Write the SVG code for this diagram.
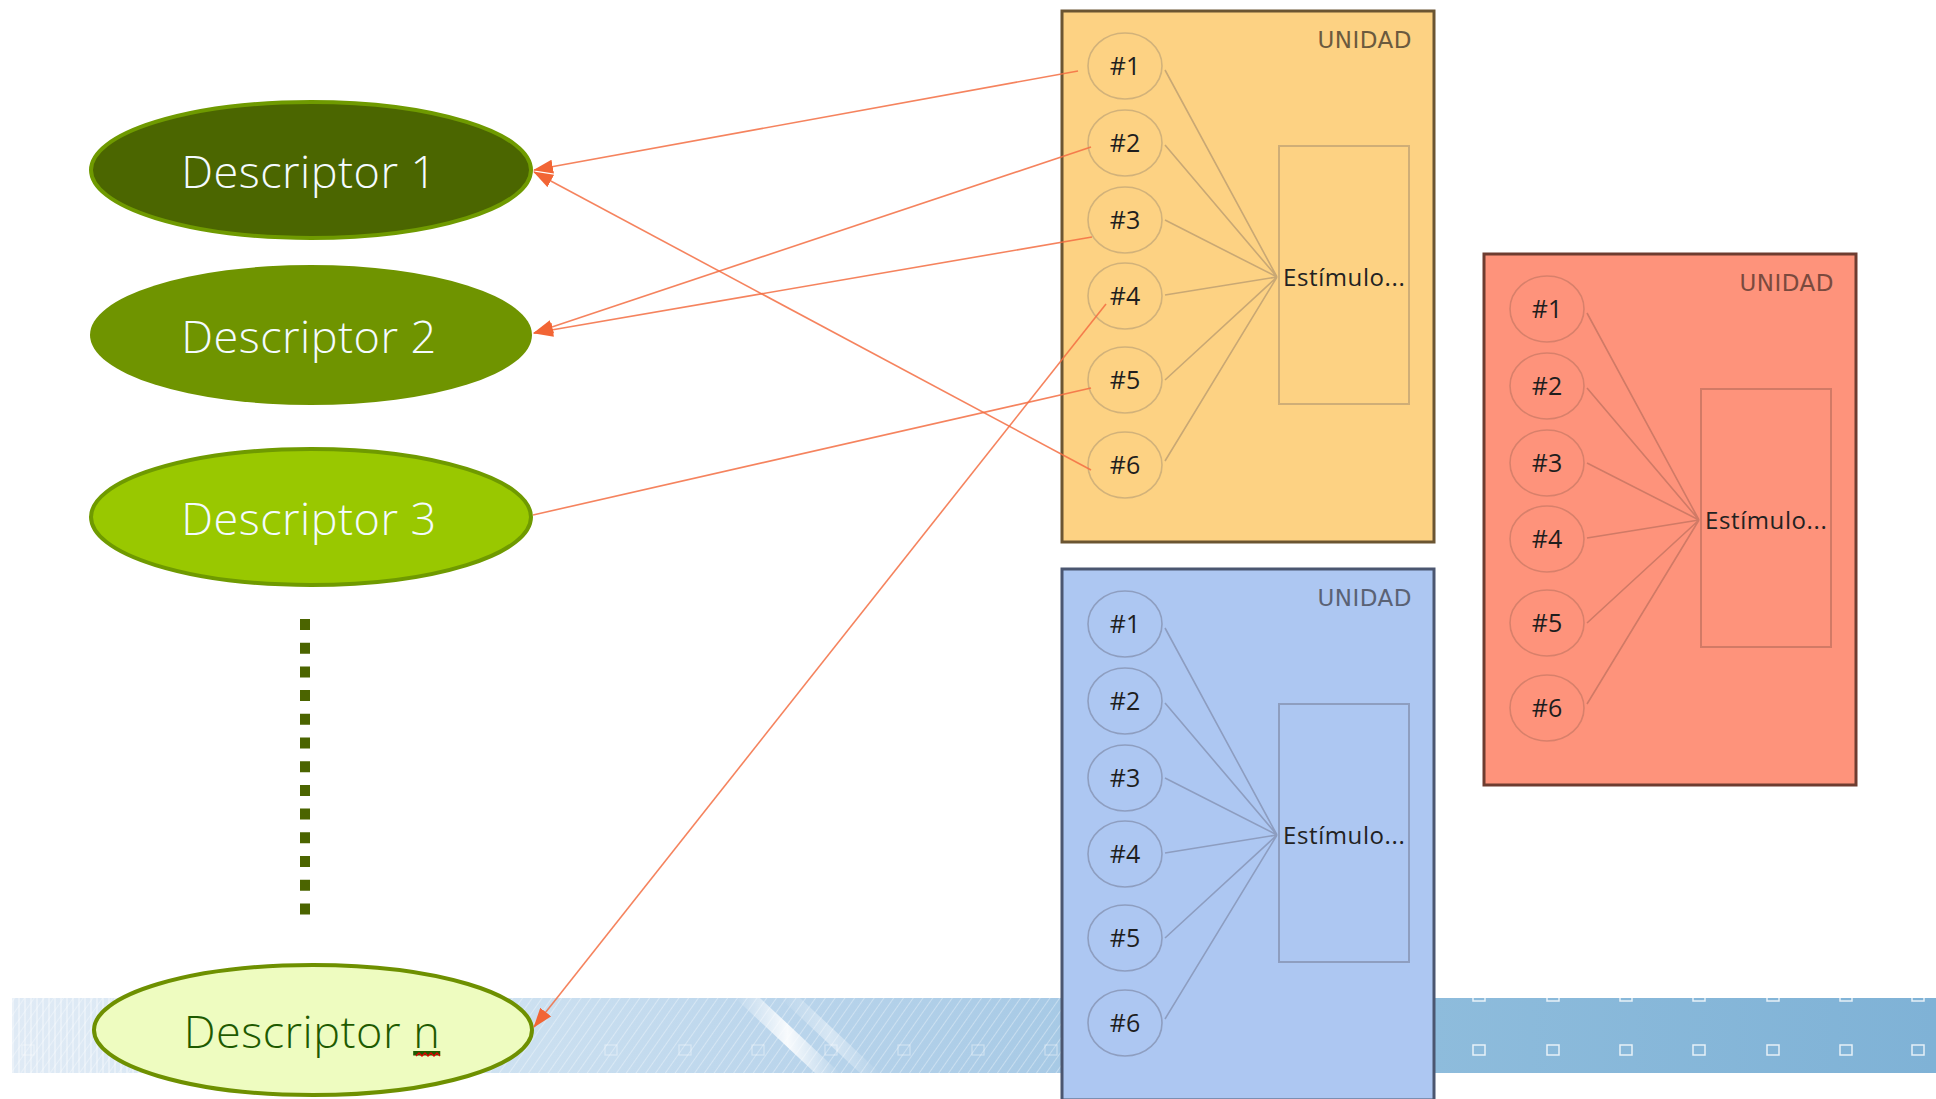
<svg xmlns="http://www.w3.org/2000/svg" width="1936" height="1099" viewBox="0 0 1936 1099">
<defs>
<style>
.dtxt{font-family:"Open Sans","Liberation Sans",sans-serif;font-weight:300;font-size:45px;text-anchor:middle;letter-spacing:0.5px;}
.hash{font-family:"Open Sans","Liberation Sans",sans-serif;font-size:25px;text-anchor:middle;fill:#1e1e1e;}
.unid{font-family:"DejaVu Sans",sans-serif;font-size:23px;text-anchor:end;letter-spacing:0.5px;}
.est{font-family:"Open Sans","Liberation Sans",sans-serif;font-size:24px;fill:#222;letter-spacing:0.6px;}
.conn{stroke:#f36d42;stroke-width:1.6;fill:none;stroke-opacity:0.85;}
.fan{fill:none;stroke-width:1.6;}
.cir{stroke-width:1.6;}
</style>
<marker id="ah" viewBox="0 0 20 14" refX="19" refY="7" markerWidth="20" markerHeight="14" markerUnits="userSpaceOnUse" orient="auto">
<path d="M0,0 L20,7 L0,14 Z" fill="#f26535"/>
</marker>
<linearGradient id="bandL" x1="0" y1="0" x2="1" y2="0">
<stop offset="0" stop-color="#dfeaf5"/>
<stop offset="0.4" stop-color="#d2e4f2"/>
<stop offset="0.7" stop-color="#bcd6ec"/>
<stop offset="1" stop-color="#a6c9e5"/>
</linearGradient>
<linearGradient id="bandR" x1="0" y1="0" x2="1" y2="0">
<stop offset="0" stop-color="#8ebcdc"/>
<stop offset="1" stop-color="#7fb2d6"/>
</linearGradient>
<linearGradient id="streak" x1="0" y1="0" x2="1" y2="0">
<stop offset="0" stop-color="#ffffff" stop-opacity="0"/>
<stop offset="0.5" stop-color="#ffffff" stop-opacity="0.9"/>
<stop offset="1" stop-color="#ffffff" stop-opacity="0"/>
</linearGradient>
<pattern id="diag" width="8" height="8" patternUnits="userSpaceOnUse" patternTransform="rotate(35)">
<rect width="8" height="8" fill="none"/>
<line x1="0" y1="0" x2="0" y2="8" stroke="#ffffff" stroke-width="2" stroke-opacity="0.35"/>
</pattern>
<pattern id="vert" width="6" height="8" patternUnits="userSpaceOnUse">
<line x1="1" y1="0" x2="1" y2="8" stroke="#ffffff" stroke-width="1.5" stroke-opacity="0.45"/>
</pattern>
</defs>

<rect x="0" y="0" width="1936" height="1099" fill="#ffffff"/>

<g id="background-band">
<rect x="12" y="998" width="1060" height="75" fill="url(#bandL)"/>
<rect x="12" y="998" width="1060" height="75" fill="url(#diag)"/>
<rect x="12" y="998" width="160" height="75" fill="url(#vert)"/>
<polygon points="735,998 760,998 840,1073 815,1073" fill="url(#streak)"/>
<polygon points="780,998 800,998 880,1073 860,1073" fill="url(#streak)" opacity="0.5"/>
<rect x="1430" y="998" width="506" height="75" fill="url(#bandR)"/>
<g fill="none" stroke="#ffffff" stroke-width="1.5" stroke-opacity="0.8">
<rect x="1473" y="1045" width="12" height="10"/>
<rect x="1547" y="1045" width="12" height="10"/>
<rect x="1620" y="1045" width="12" height="10"/>
<rect x="1693" y="1045" width="12" height="10"/>
<rect x="1767" y="1045" width="12" height="10"/>
<rect x="1840" y="1045" width="12" height="10"/>
<rect x="1912" y="1045" width="12" height="10"/>
<path d="M1473,998 v3 h12 v-3 M1547,998 v3 h12 v-3 M1620,998 v3 h12 v-3 M1693,998 v3 h12 v-3 M1767,998 v3 h12 v-3 M1840,998 v3 h12 v-3 M1912,998 v3 h12 v-3"/>
</g>
<g fill="none" stroke="#ffffff" stroke-width="1.2" stroke-opacity="0.4">
<rect x="22" y="1045" width="12" height="10"/>
<rect x="605" y="1045" width="12" height="10"/>
<rect x="679" y="1045" width="12" height="10"/>
<rect x="752" y="1045" width="12" height="10"/>
<rect x="825" y="1045" width="12" height="10"/>
<rect x="898" y="1045" width="12" height="10"/>
<rect x="972" y="1045" width="12" height="10"/>
<rect x="1045" y="1045" width="12" height="10"/>
</g>
</g>

<g id="descriptor-1">
<ellipse cx="311" cy="170" rx="220" ry="68" fill="#4b6600" stroke="#6f9a00" stroke-width="4"/>
<text class="dtxt" x="309" y="188" fill="#f4fbff">Descriptor 1</text>
</g>
<g id="descriptor-2">
<ellipse cx="311" cy="335" rx="221" ry="70" fill="#6f9400"/>
<text class="dtxt" x="309" y="353" fill="#f4fbff">Descriptor 2</text>
</g>
<g id="descriptor-3">
<ellipse cx="311" cy="517" rx="220" ry="68" fill="#99c800" stroke="#6f9a00" stroke-width="4"/>
<text class="dtxt" x="309" y="535" fill="#f4fbff">Descriptor 3</text>
</g>
<g id="ellipsis-dots">
<line x1="305" y1="619" x2="305" y2="915" stroke="#4b6400" stroke-width="10" stroke-dasharray="11 12.7"/>
</g>
<g id="descriptor-n">
<ellipse cx="313" cy="1030" rx="219" ry="65" fill="#eefcc0" stroke="#6e9000" stroke-width="4"/>
<text class="dtxt" x="312" y="1048" fill="#1e5a00">Descriptor <tspan text-decoration="underline">n</tspan></text>
<path d="M416,1056 l3,-3 l3,3 l3,-3 l3,3 l3,-3 l3,3 l3,-3 l3,3" fill="none" stroke="#e00000" stroke-width="1.3"/>
</g>

<g id="unidad-orange" transform="translate(1062,11)">
<rect x="0" y="0" width="372" height="531" fill="#fdd283" stroke="#6b5532" stroke-width="3"/>
<text class="unid" x="350" y="37" fill="#6b5a3e">UNIDAD</text>
<rect x="217" y="135" width="130" height="258" fill="none" stroke="#cfae77" stroke-width="2"/>
<g class="fan" stroke="#c9a874">
<path d="M103,59 L215,266 M103,134 L215,266 M103,209 L215,266 M103,284 L215,266 M103,369 L215,266 M103,450 L215,266"/>
</g>
<g class="cir" fill="none" stroke="#d2b27a">
<ellipse cx="63" cy="55" rx="37" ry="33"/>
<ellipse cx="63" cy="132" rx="37" ry="33"/>
<ellipse cx="63" cy="209" rx="37" ry="33"/>
<ellipse cx="63" cy="285" rx="37" ry="33"/>
<ellipse cx="63" cy="369" rx="37" ry="33"/>
<ellipse cx="63" cy="454" rx="37" ry="33"/>
</g>
<text class="hash" x="63" y="64">#1</text>
<text class="hash" x="63" y="141">#2</text>
<text class="hash" x="63" y="218">#3</text>
<text class="hash" x="63" y="294">#4</text>
<text class="hash" x="63" y="378">#5</text>
<text class="hash" x="63" y="463">#6</text>
<text class="est" x="221" y="275">Estímulo...</text>
</g>

<g id="unidad-blue" transform="translate(1062,569)">
<rect x="0" y="0" width="372" height="531" fill="#adc7f2" stroke="#4b5670" stroke-width="3"/>
<text class="unid" x="350" y="37" fill="#5a6275">UNIDAD</text>
<rect x="217" y="135" width="130" height="258" fill="none" stroke="#8e9ec0" stroke-width="2"/>
<g class="fan" stroke="#8d9dc0">
<path d="M103,59 L215,266 M103,134 L215,266 M103,209 L215,266 M103,284 L215,266 M103,369 L215,266 M103,450 L215,266"/>
</g>
<g class="cir" fill="none" stroke="#8e9ec0">
<ellipse cx="63" cy="55" rx="37" ry="33"/>
<ellipse cx="63" cy="132" rx="37" ry="33"/>
<ellipse cx="63" cy="209" rx="37" ry="33"/>
<ellipse cx="63" cy="285" rx="37" ry="33"/>
<ellipse cx="63" cy="369" rx="37" ry="33"/>
<ellipse cx="63" cy="454" rx="37" ry="33"/>
</g>
<text class="hash" x="63" y="64">#1</text>
<text class="hash" x="63" y="141">#2</text>
<text class="hash" x="63" y="218">#3</text>
<text class="hash" x="63" y="294">#4</text>
<text class="hash" x="63" y="378">#5</text>
<text class="hash" x="63" y="463">#6</text>
<text class="est" x="221" y="275">Estímulo...</text>
</g>

<g id="unidad-red" transform="translate(1484,254)">
<rect x="0" y="0" width="372" height="531" fill="#fe937b" stroke="#6e3c30" stroke-width="3"/>
<text class="unid" x="350" y="37" fill="#7a4a3e">UNIDAD</text>
<rect x="217" y="135" width="130" height="258" fill="none" stroke="#d27a66" stroke-width="2"/>
<g class="fan" stroke="#d07a66">
<path d="M103,59 L215,266 M103,134 L215,266 M103,209 L215,266 M103,284 L215,266 M103,369 L215,266 M103,450 L215,266"/>
</g>
<g class="cir" fill="none" stroke="#d8806b">
<ellipse cx="63" cy="55" rx="37" ry="33"/>
<ellipse cx="63" cy="132" rx="37" ry="33"/>
<ellipse cx="63" cy="209" rx="37" ry="33"/>
<ellipse cx="63" cy="285" rx="37" ry="33"/>
<ellipse cx="63" cy="369" rx="37" ry="33"/>
<ellipse cx="63" cy="454" rx="37" ry="33"/>
</g>
<text class="hash" x="63" y="64">#1</text>
<text class="hash" x="63" y="141">#2</text>
<text class="hash" x="63" y="218">#3</text>
<text class="hash" x="63" y="294">#4</text>
<text class="hash" x="63" y="378">#5</text>
<text class="hash" x="63" y="463">#6</text>
<text class="est" x="221" y="275">Estímulo...</text>
</g>

<g id="connectors">
<line class="conn" x1="1078" y1="71" x2="534" y2="170" marker-end="url(#ah)"/>
<line class="conn" x1="1091" y1="147" x2="534" y2="333" marker-end="url(#ah)"/>
<line class="conn" x1="1092" y1="237" x2="534" y2="333" marker-end="url(#ah)"/>
<line class="conn" x1="1106" y1="304" x2="534" y2="1027" marker-end="url(#ah)"/>
<line class="conn" x1="1091" y1="388" x2="533" y2="515"/>
<line class="conn" x1="1091" y1="470" x2="534" y2="172" marker-end="url(#ah)"/>
</g>
</svg>
